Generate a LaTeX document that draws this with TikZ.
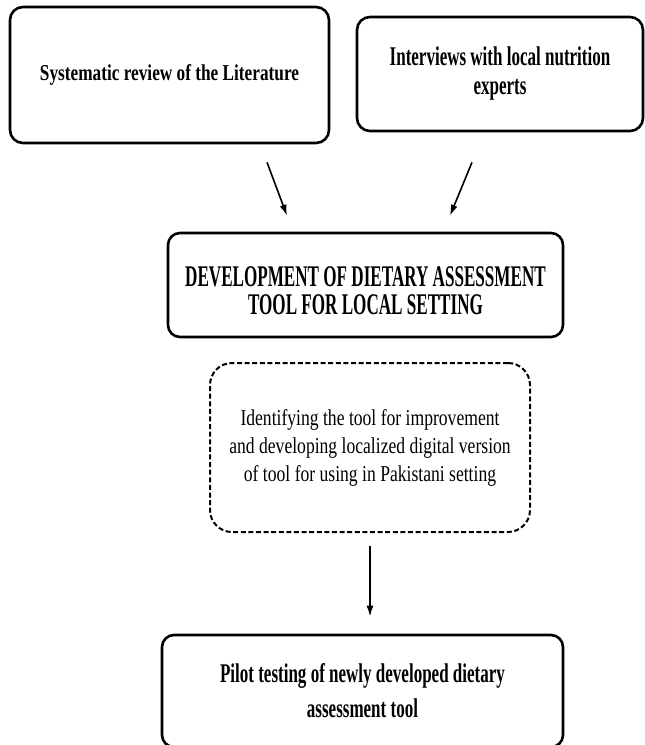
\documentclass[tikz,border=0pt]{standalone}
\usepackage{fontspec}
\setmainfont{Liberation Serif}[FakeStretch=0.76]
\newfontfamily\narrowB{Liberation Serif}[FakeStretch=0.63]
\newfontfamily\narrowC{Liberation Serif}[FakeStretch=0.57]
\usetikzlibrary{arrows.meta}

\begin{document}
\begin{tikzpicture}[
  x=1pt, y=-1pt, % pixel grid
  box/.style={draw, line width=2.6pt, rounded corners=13pt, align=center,
    font=\fontsize{22.7}{29}\selectfont\bfseries, inner sep=0pt},
  dashbox/.style={draw, line width=2pt, dash pattern=on 5pt off 2.6pt,
    rounded corners=22pt, align=center,
    font=\fontsize{22.7}{28}\selectfont\addfontfeature{FakeStretch=0.775}, inner sep=0pt},
  link/.style={line width=1.6pt, -{Latex[length=11pt,width=7pt]}}
  ]
  \useasboundingbox (0,0) rectangle (645,745);
  \node[box, minimum width=319pt, minimum height=136pt] (lit) at (169.5,75)
    {Systematic review of the Literature};
  \node[box, minimum width=286pt, minimum height=114pt,
    font=\narrowB\fontsize{27}{29}\selectfont\bfseries] (experts) at (500,74)
    {Interviews with local nutrition\\experts};
  \node[box, rounded corners=12pt, minimum width=395pt, minimum height=104pt,
    font=\narrowC\fontsize{30}{28}\selectfont\bfseries] (dev) at (365.5,285)
    {\rule{0pt}{31pt}DEVELOPMENT OF DIETARY ASSESSMENT\\TOOL FOR LOCAL SETTING};
  \node[dashbox, minimum width=320pt, minimum height=169pt] (ident) at (370,447.5)
    {Identifying the tool for improvement\\and developing localized digital version\\of tool for using in Pakistani setting};
  \node[box, rounded corners=12pt, minimum width=401pt, minimum height=112pt,
    font=\narrowB\fontsize{27}{35}\selectfont\bfseries] (pilot) at (362.5,691)
    {Pilot testing of newly developed dietary\\assessment tool};
  % arrow ends
  \coordinate (litout) at ([shift={(97.5,18)}]lit.south);
  \coordinate (devinl) at ([shift={(-78.5,-16)}]dev.north);
  \coordinate (expout) at ([shift={(-28,30)}]experts.south);
  \coordinate (devinr) at ([shift={(84.5,-16)}]dev.north);
  \coordinate (identout) at ([yshift=-13pt]ident.south);
  \coordinate (pilotin) at ([shift={(7.5,-17)}]pilot.north);
  \draw[link] (litout) -- (devinl);
  \draw[link] (expout) -- (devinr);
  \draw[link] (identout) -- (pilotin);
\end{tikzpicture}
\end{document}
